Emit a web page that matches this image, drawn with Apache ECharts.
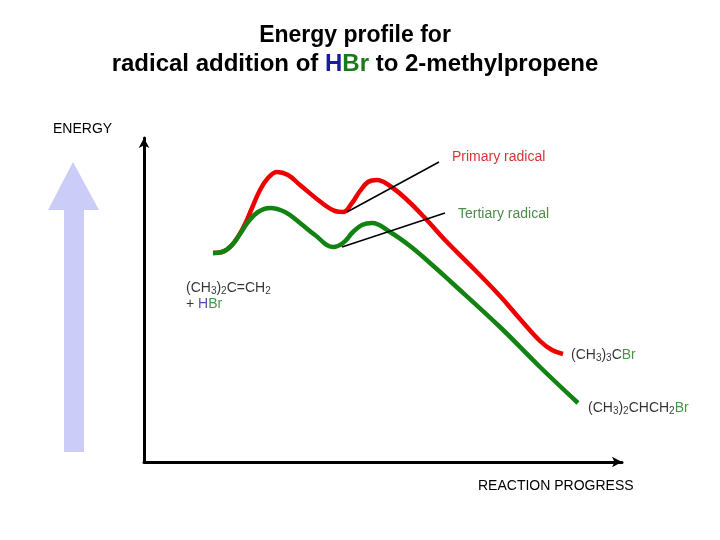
<!DOCTYPE html>
<html>
<head>
<meta charset="utf-8">
<script src="https://cdn.jsdelivr.net/npm/echarts@6/dist/echarts.min.js"></script>
<style>html,body{margin:0;padding:0;background:#fff;}#c{width:720px;height:540px;}</style>
</head>
<body>
<div id="c"></div>
<script>
// Reaction progress (x) and energy (y), arbitrary units
const primaryX  = [69,78,88,99,108,116,124,133,144,156,178,191,199,208,216,224,233,246,261,281,301,331,356,376,396,408,419];
const primaryY  = [209,210,217,234,254,272,284,290,287,277,259,251,250,259,271,280,282,276,264,244,222,192,166,143,121,112,108];
const tertiaryX = [69,78,88,96,104,114,126,141,156,171,189,199,209,218,228,246,266,286,306,356,396,434];
const tertiaryY = [209,210,217,228,240,250,254,250,239,227,215,219,230,237,239,230,216,199,181,135,95,59];
// pointer lines from the intermediates to their labels
const pointerPrimary  = [[203,250],[295,300]];
const pointerTertiary = [[198,215],[301,249]];
// label anchors
const labelAnchors = {
  primary:  [308,305],
  tertiary: [314,248],
  reactant: [42,166],
  prodA:    [427,107],
  prodB:    [444,54]
};

const zip = (xs, ys) => xs.map((x, i) => [x, ys[i]]);
const FF = 'Liberation Sans, Arial, sans-serif';
const SUBRICH = {
  n: {fontSize: 14, color: '#000', fontFamily: FF, lineHeight: 16},
  s: {fontSize: 10, color: '#000', fontFamily: FF, lineHeight: 10, verticalAlign: 'bottom'},
  g: {fontSize: 14, color: '#1a7a1a', fontFamily: FF, lineHeight: 16},
  h: {fontSize: 14, color: '#1f1fa0', fontFamily: FF, lineHeight: 16},
  r: {fontSize: 14, color: '#cc0000', fontFamily: FF, lineHeight: 16},
  t: {fontSize: 14, color: '#1f6f1f', fontFamily: FF, lineHeight: 16}
};

function lbl(pos, text) {
  return {value: pos, label: {show: true, position: 'right', distance: 0, align: 'left', verticalAlign: 'middle', formatter: text, rich: SUBRICH}};
}

const chart = echarts.init(document.getElementById('c'), null, {renderer: 'canvas'});
chart.setOption({
  animation: false,
  backgroundColor: '#fff',
  grid: {left: 144, right: 98, top: 138, bottom: 78},
  xAxis: {
    type: 'value', min: 0, max: 478,
    axisLine: {show: true, symbol: ['none', 'arrow'], symbolSize: [8, 10], lineStyle: {color: '#000', width: 3}},
    axisTick: {show: false}, axisLabel: {show: false}, splitLine: {show: false}
  },
  yAxis: {
    type: 'value', min: 0, max: 324,
    axisLine: {show: true, symbol: ['none', 'arrow'], symbolSize: [8, 10], lineStyle: {color: '#000', width: 3}},
    axisTick: {show: false}, axisLabel: {show: false}, splitLine: {show: false}
  },
  graphic: [
    {type: 'polygon', shape: {points: [[48,210],[73,162],[99,210],[84,210],[84,452],[64,452],[64,210]]}, style: {fill: '#ccccf8'}, z: 0},
    {type: 'text', x: 355, y: 21, style: {
      text: '{a|Energy profile for}\n{b|radical addition of }{h|H}{g|Br}{b| to 2-methylpropene}',
      align: 'center',
      rich: {
        a: {fontSize: 23, fontWeight: 'bold', fill: '#000', fontFamily: FF, lineHeight: 29},
        b: {fontSize: 24, fontWeight: 'bold', fill: '#000', fontFamily: FF, lineHeight: 29},
        h: {fontSize: 24, fontWeight: 'bold', fill: '#1a1aaa', fontFamily: FF, lineHeight: 29},
        g: {fontSize: 24, fontWeight: 'bold', fill: '#1a7a1a', fontFamily: FF, lineHeight: 29}
      }
    }},
    {type: 'text', x: 53, y: 122, style: {text: 'ENERGY', fontSize: 14, fill: '#000', fontFamily: FF}},
    {type: 'text', x: 478, y: 479, style: {text: 'REACTION PROGRESS', fontSize: 14, fill: '#000', fontFamily: FF}}
  ],
  series: [
    {type: 'line', name: 'Primary radical', data: zip(primaryX, primaryY), smooth: 0.4, showSymbol: false,
     lineStyle: {color: '#ee0000', width: 4.5}, z: 3},
    {type: 'line', name: 'Tertiary radical', data: zip(tertiaryX, tertiaryY), smooth: 0.4, showSymbol: false,
     lineStyle: {color: '#128312', width: 4.5}, z: 4},
    {type: 'line', data: pointerPrimary, showSymbol: false, lineStyle: {color: '#000', width: 1.5}, z: 5},
    {type: 'line', data: pointerTertiary, showSymbol: false, lineStyle: {color: '#000', width: 1.5}, z: 5},
    {type: 'scatter', symbolSize: 0, z: 6, data: [
      lbl(labelAnchors.primary, '{r|Primary radical}'),
      lbl(labelAnchors.tertiary, '{t|Tertiary radical}'),
      lbl(labelAnchors.reactant, '{n|(CH}{s|3}{n|)}{s|2}{n|C=CH}{s|2}\n{n|+ }{h|H}{g|Br}'),
      lbl(labelAnchors.prodA, '{n|(CH}{s|3}{n|)}{s|3}{n|C}{g|Br}'),
      lbl(labelAnchors.prodB, '{n|(CH}{s|3}{n|)}{s|2}{n|CHCH}{s|2}{g|Br}')
    ]}
  ]
});
</script>
</body>
</html>
